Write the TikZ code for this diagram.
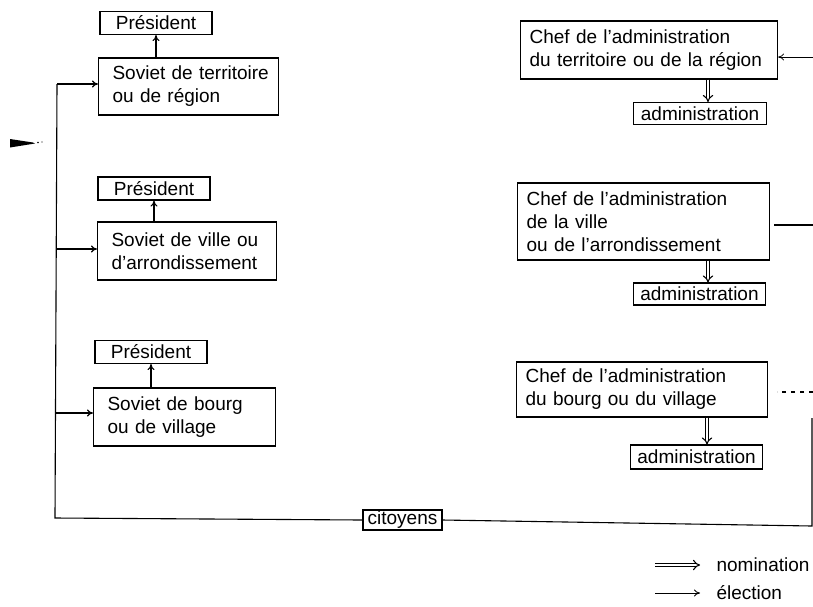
\documentclass[tikz,border=0pt]{standalone}
\usepackage{fontspec}
\setmainfont{Liberation Sans}
\usetikzlibrary{arrows.meta}
\newcommand\dgfont{\fontsize{19}{23}\selectfont\hyphenpenalty=10000\relax\exhyphenpenalty=10000\relax}
\begin{document}
\begin{tikzpicture}[x=1pt,y=-1pt,
  font=\dgfont,
  every path/.style={line width=1.1pt},
  box/.style={draw, line width=1.1pt, inner ysep=2pt},
  presbox/.style={box, minimum width=112pt, minimum height=23pt, align=center, inner ysep=0pt},
  sovbox/.style={box, align=left, inner xsep=9pt, anchor=west},
  chefbox/.style={box, align=left, inner xsep=9pt, anchor=west},
  adminbox/.style={box, minimum height=22pt, inner ysep=0pt, inner xsep=7pt},
  elec/.style={-{To[length=6pt,width=7pt]}},
  nomi/.style={double, double distance=2.4pt, line width=1.1pt, -{Implies[length=5pt]}}
]
\useasboundingbox (0,0) rectangle (813,606);

% left column
\node[presbox] (p1) at (156,23) {Président};
\node[sovbox, text width=162pt, minimum height=57pt] (s1) at (98,86.5) {\mbox{\hspace*{5pt}Soviet de territoire}\\\mbox{\hspace*{5pt}ou de région}};
\node[presbox] (p2) at (154,188.5) {Président};
\node[sovbox, text width=161pt, minimum height=58pt] (s2) at (97,251) {\mbox{\hspace*{5pt}Soviet de ville ou}\\\mbox{\hspace*{5pt}d'arrondissement}};
\node[presbox] (p3) at (151,352) {Président};
\node[sovbox, text width=164pt, minimum height=58pt] (s3) at (93,417) {\mbox{\hspace*{5pt}Soviet de bourg}\\\mbox{\hspace*{5pt}ou de village}};

\draw[elec] (s1.north -| p1.south) -- (p1.south);
\draw[elec] (s2.north -| p2.south) -- (p2.south);
\draw[elec] (s3.north -| p3.south) -- (p3.south);

% citizens and trunk
\node[box, minimum width=79pt, minimum height=20pt, inner sep=1pt] (cit) at (402.5,520) {citoyens};
\coordinate (tl) at (57,84);
\coordinate (bl) at (55,518);
\coordinate (br) at (812,526);
\coordinate (tr) at (812,418);
\draw (tl) -- (bl) -- (cit.west);
\draw (cit.east) -- (br) -- (tr);
\draw[elec] (tl) -- (tl -| s1.west);
\draw[elec] (56,249) -- (56,249 -| s2.west);
\draw[elec] (55.5,413) -- (55.5,413 -| s3.west);

% fragment on the left edge
\fill (10,139) -- (33,142.5) -- (35,143.5) -- (10,147.5) -- cycle;
\fill (38,142.5) circle (0.8pt) (42,142) circle (0.6pt);

% right column
\node[chefbox, text width=239pt, minimum height=58pt] (c1) at (520,50) {\mbox{Chef de l'administration}\\\mbox{du territoire ou de la région}};
\node[adminbox] (a1) at (700,113.5) {administration};
\draw[nomi] (c1.south -| 708,0) -- (a1.north -| 708,0);

\node[chefbox, text width=234pt, minimum height=77pt] (c2) at (517,221.5) {\mbox{Chef de l'administration}\\de la ville\\\mbox{ou de l'arrondissement}};
\node[adminbox] (a2) at (699.5,294) {administration};
\draw[nomi] (c2.south -| 708,0) -- (a2.north -| 708,0);

\node[chefbox, text width=233pt, minimum height=55pt] (c3) at (516,389.5) {\mbox{Chef de l'administration}\\\mbox{du bourg ou du village}};
\node[adminbox, minimum height=24pt] (a3) at (696.5,457) {administration};
\draw[nomi] (c3.south -| 707,0) -- (a3.north -| 707,0);

% lines coming from the right edge
\coordinate (r1) at (813,57);
\draw[elec, line width=0.8pt] (r1) -- (r1 -| c1.east);
\coordinate (r2a) at (813,225);
\coordinate (r2b) at (774,225);
\draw (r2a) -- (r2b);
\coordinate (r3a) at (813,392);
\coordinate (r3b) at (777,392);
\draw[dashed, dash pattern=on 4pt off 5pt] (r3a) -- (r3b);

% legend
\coordinate (ln1) at (655,565);
\coordinate (ln2) at (700,565);
\draw[nomi] (ln1) -- (ln2);
\node[anchor=west, inner sep=0pt] (lt1) at (716,565) {nomination};
\coordinate (le1) at (655,593);
\coordinate (le2) at (700,593);
\draw[elec, line width=0.9pt] (le1) -- (le2);
\node[anchor=west, inner sep=0pt] (lt2) at (716,593) {élection};
\end{tikzpicture}
\end{document}
